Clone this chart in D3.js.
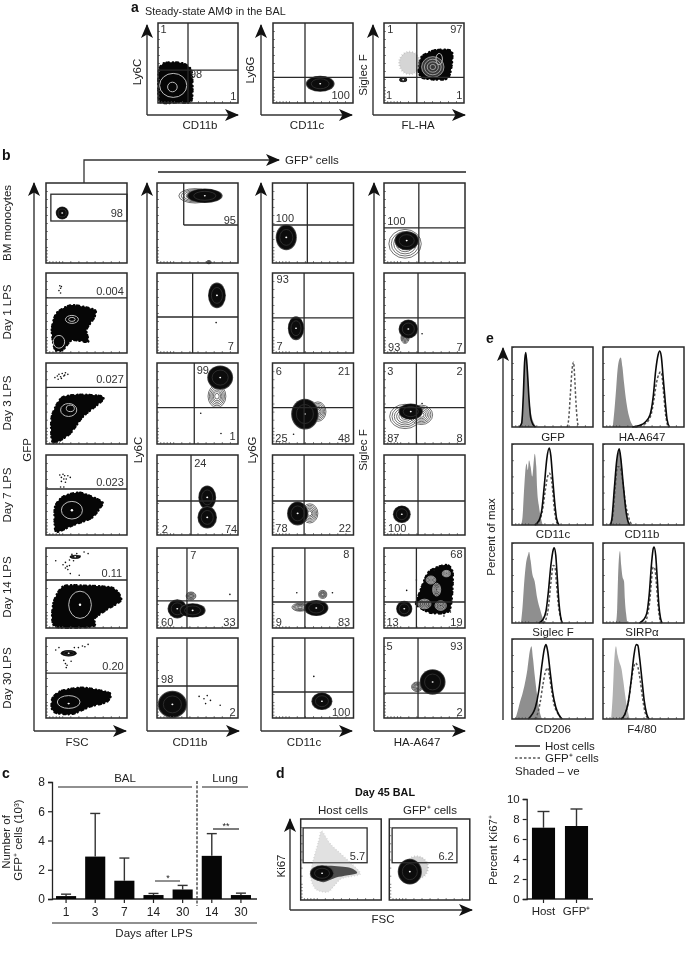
<!DOCTYPE html>
<html>
<head>
<meta charset="utf-8">
<script src="https://cdnjs.cloudflare.com/ajax/libs/d3/7.8.5/d3.min.js"></script>
<style>
html, body { margin: 0; padding: 0; background: #fff; }
svg { display: block; filter: blur(0.3px); }
text { font-family: "Liberation Sans", Arial, sans-serif; fill: #222; }
</style>
</head>
<body>
<div id="viz_div"></div>
<script>
// ---------- data: all gates, blobs and labels are in percent of each plot's axis ----------

var row_names = ["BM monocytes", "Day 1 LPS", "Day 3 LPS", "Day 7 LPS", "Day 14 LPS", "Day 30 LPS"];

// panel a
var a_gates = [{v: 37.5, h: 41}, {v: 40, h: 32}, {v: 41, h: 32}];
var a_labels = [
	[["1", 3, 88, "start"], ["98", 40, 31, "start"], ["1", 98, 4, "end"]],
	[["100", 96, 5, "end"]],
	[["1", 4, 87, "start"], ["97", 98, 87, "end"], ["1", 2.5, 5, "start"], ["1", 98, 5, "end"]]
];
var a_clouds = [
	[[2, 2], [1, 40], [8, 50], [30, 50], [42, 40], [42, 3], [25, 1]],
	[],
	[[47, 58], [64, 66], [85, 64], [80, 31], [49, 31], [43, 41]]
];
var a_blobs = [
	[{x: 19, y: 22, rx: 17, ry: 15, kind: "ring"}, {x: 18, y: 20, rx: 6, ry: 6, kind: "ring"}],
	[{x: 59, y: 24, rx: 18, ry: 10, kind: "dark"}],
	[{x: 32, y: 50, rx: 13, ry: 14, kind: "haze"}, {x: 24, y: 29, rx: 5, ry: 3, kind: "dark"},
	 {x: 61, y: 45, rx: 14, ry: 13, kind: "inner"}, {x: 69, y: 55, rx: 4, ry: 7, kind: "ring"}]
];

// panel b, column FSC / GFP
var gfp_gates = [{rect: [6, 100, 52.5, 86]}, {h: 69}, {h: 70}, {h: 57.5}, {h: 60}, {h: 56}];
var gfp_labels = [
	[["98", 95, 57.5, "end"]],
	[["0.004", 96, 72, "end"]],
	[["0.027", 96, 75, "end"]],
	[["0.023", 96, 61, "end"]],
	[["0.11", 94, 64, "end"]],
	[["0.20", 96, 60, "end"]]
];
var gfp_clouds = [
	[],
	[[11, 4], [7, 29], [13, 50], [32, 60], [60, 54], [60, 45], [50, 29], [52, 14], [32, 16], [21, 4]],
	[[7, 5], [7, 34], [19, 57], [42, 61], [69, 59], [69, 53], [46, 34], [30, 13], [13, 2]],
	[[11, 8], [11, 35], [21, 48], [42, 53], [69, 42], [67, 34], [56, 21], [33, 12], [15, 4]],
	[[11, 2], [9, 31], [21, 52], [50, 53], [83, 50], [93, 35], [75, 23], [60, 12], [58, 2]],
	[[7, 12], [8, 25], [19, 34], [46, 38], [79, 31], [75, 20], [54, 14], [33, 5], [13, 6]]
];
var gfp_blobs = [
	[{x: 20, y: 62.5, rx: 8, ry: 8, kind: "dark"}],
	[{x: 32, y: 42, rx: 8, ry: 5, kind: "ring"}, {x: 32, y: 42, rx: 4, ry: 2.5, kind: "ring"}, {x: 16, y: 14, rx: 7, ry: 8, kind: "ring"}],
	[{x: 28, y: 42, rx: 10, ry: 8, kind: "ring"}, {x: 30, y: 44, rx: 5, ry: 4, kind: "ring"}],
	[{x: 32, y: 31, rx: 13, ry: 11, kind: "ring"}, {x: 32, y: 31, rx: 1.5, ry: 1.5, kind: "spot"}],
	[{x: 42, y: 29, rx: 14, ry: 17, kind: "ring"}, {x: 42, y: 29, rx: 1.5, ry: 1.5, kind: "spot"}, {x: 36, y: 89, rx: 7, ry: 2.5, kind: "dark"}],
	[{x: 28, y: 20, rx: 14, ry: 8, kind: "ring"}, {x: 28, y: 18, rx: 1.5, ry: 1, kind: "spot"}, {x: 28, y: 81, rx: 10, ry: 4, kind: "dark"}]
];
var gfp_dots = [
	[],
	[[17, 84], [18, 81], [16, 78], [18, 75], [19, 83]],
	[[11, 82], [14, 84], [16, 86], [18, 83], [20, 87], [22, 84], [24, 88], [27, 86], [15, 80], [19, 81], [23, 85]],
	[[17, 75], [19, 72], [21, 76], [23, 74], [25, 70], [27, 74], [30, 72], [19, 67], [22, 70], [24, 66], [18, 60], [22, 60]],
	[[21, 79], [24, 82], [26, 77], [29, 85], [32, 92], [38, 93], [42, 90], [47, 95], [52, 93], [27, 73], [29, 78], [24, 75], [34, 84], [30, 68], [12, 84], [41, 66]],
	[[12, 85], [16, 88], [40, 88], [45, 90], [48, 89], [52, 92], [22, 72], [24, 68], [26, 66], [25, 63], [31, 71], [35, 88]]
];

// panel b, column CD11b / Ly6C
var ly6c_gates = [{l: [33, 47.5]}, {v: 44, h: 45}, {v: 46, h: 45}, {v: 42, h: 42.5}, {v: 37, h: 34}, {v: 37, h: 40}];
var ly6c_labels = [
	[["95", 97.5, 49, "end"]],
	[["7", 95, 4, "end"]],
	[["99", 49, 87, "start"], ["1", 97, 5, "end"]],
	[["24", 46, 85, "start"], ["2", 6, 3, "start"], ["74", 99, 3, "end"]],
	[["7", 41, 86, "start"], ["60", 5, 2, "start"], ["33", 97, 3, "end"]],
	[["98", 5, 44, "start"], ["2", 97, 2, "end"]]
];
var ly6c_blobs = [
	[{x: 47, y: 84, rx: 20, ry: 9, kind: "soft"}, {x: 59, y: 84, rx: 22, ry: 9, kind: "dark"}, {x: 64, y: 1, rx: 3, ry: 2, kind: "soft"}],
	[{x: 74, y: 72, rx: 11, ry: 16, kind: "dark"}],
	[{x: 74, y: 59, rx: 11, ry: 14, kind: "soft"}, {x: 78, y: 82, rx: 16, ry: 15, kind: "dark"}],
	[{x: 62, y: 47, rx: 11, ry: 15, kind: "dark"}, {x: 62, y: 22, rx: 12, ry: 14, kind: "dark"}],
	[{x: 42, y: 40, rx: 6, ry: 5, kind: "soft"}, {x: 25, y: 24, rx: 12, ry: 12, kind: "dark"}, {x: 44, y: 22, rx: 16, ry: 9, kind: "dark"}],
	[{x: 19, y: 17, rx: 18, ry: 17, kind: "dark"}]
];
var ly6c_dots = [[], [[73, 38]], [[54, 38], [79, 13]], [], [[90, 42]], [[52, 27], [58, 24], [62, 28], [66, 22], [78, 16], [60, 18]]];

// panel b, column CD11c / Ly6G
var ly6g_gates = [{v: 43, h: 47.5}, {v: 39, h: 44}, {v: 39, h: 45}, {v: 39, h: 42.5}, {v: 40, h: 32.5}, {v: 40, h: 32.5}];
var ly6g_labels = [
	[["100", 4, 51, "start"]],
	[["93", 5, 87.5, "start"], ["7", 5, 4, "start"]],
	[["6", 4, 85, "start"], ["21", 96, 85, "end"], ["25", 3.5, 3, "start"], ["48", 96, 3, "end"]],
	[["78", 3.5, 4, "start"], ["22", 97, 4, "end"]],
	[["8", 95, 87, "end"], ["9", 4, 3, "start"], ["83", 96, 3, "end"]],
	[["100", 96, 2, "end"]]
];
var ly6g_blobs = [
	[{x: 17, y: 32, rx: 13, ry: 16, kind: "dark"}],
	[{x: 29, y: 31, rx: 10, ry: 15, kind: "dark"}],
	[{x: 56, y: 40, rx: 10, ry: 12, kind: "soft"}, {x: 40, y: 37, rx: 17, ry: 19, kind: "dark"}],
	[{x: 46, y: 27, rx: 10, ry: 12, kind: "soft"}, {x: 31, y: 27, rx: 13, ry: 15, kind: "dark"}],
	[{x: 34, y: 26, rx: 10, ry: 5, kind: "soft"}, {x: 62, y: 42, rx: 5, ry: 5, kind: "soft"}, {x: 54, y: 25, rx: 15, ry: 10, kind: "dark"}],
	[{x: 61, y: 21, rx: 13, ry: 11, kind: "dark"}]
];
var ly6g_dots = [[], [], [[44, 50], [26, 12]], [], [[30, 44], [74, 44]], [[51, 52]]];

// panel b, column HA-A647 / Siglec F
var siglec_gates = [{v: 43, h: 44}, {v: 42, h: 44}, {v: 40, h: 45}, {v: 42, h: 42.5}, {v: 40, h: 32.5}, {v: 42, h: 31}];
var siglec_labels = [
	[["100", 4, 47.5, "start"]],
	[["93", 5, 3, "start"], ["7", 97, 3, "end"]],
	[["3", 4, 85, "start"], ["2", 97, 85, "end"], ["87", 4, 3, "start"], ["8", 97, 3, "end"]],
	[["100", 5, 4, "start"]],
	[["68", 97, 87, "end"], ["13", 3, 3, "start"], ["19", 97, 3, "end"]],
	[["5", 3, 85, "start"], ["93", 97, 85, "end"], ["2", 97, 2, "end"]]
];
var siglec_blobs = [
	[{x: 26, y: 24, rx: 20, ry: 18, kind: "soft"}, {x: 28, y: 28, rx: 15, ry: 12, kind: "dark"}],
	[{x: 26, y: 19, rx: 5, ry: 7, kind: "soft"}, {x: 30, y: 30, rx: 12, ry: 12, kind: "dark"}],
	[{x: 26, y: 34, rx: 19, ry: 15, kind: "soft"}, {x: 46, y: 36, rx: 14, ry: 12, kind: "soft"}, {x: 33, y: 40, rx: 15, ry: 10, kind: "dark"}],
	[{x: 22, y: 26, rx: 11, ry: 11, kind: "dark"}],
	[{x: 25, y: 24, rx: 10, ry: 10, kind: "dark"}],
	[{x: 41, y: 39, rx: 7, ry: 6, kind: "soft"}, {x: 60, y: 45, rx: 16, ry: 16, kind: "dark"}]
];
var siglec_dots = [[], [[47, 24]], [[47, 50], [14, 8]], [], [[28, 47], [72, 78], [62, 72], [82, 20], [74, 15], [40, 60]], []];
// irregular population in the day 14 plot
var siglec_cloud_d14 = [[42, 39], [55, 70], [77, 79], [85, 68], [81, 22], [57, 19], [40, 29]];
var siglec_rings_d14 = [
	{x: 65, y: 48, rx: 5, ry: 8, kind: "inner"}, {x: 77, y: 68, rx: 5, ry: 4, kind: "inner"},
	{x: 58, y: 60, rx: 6, ry: 5, kind: "inner"}, {x: 50, y: 30, rx: 8, ry: 6, kind: "inner"},
	{x: 70, y: 28, rx: 7, ry: 6, kind: "inner"}
];

// panel c
var c_days = ["1", "3", "7", "14", "30", "14", "30"];
var c_means = [0.2, 2.9, 1.25, 0.27, 0.65, 2.95, 0.27];
var c_tops = [0.33, 5.85, 2.8, 0.38, 0.93, 4.47, 0.4];
var c_ticks = [0, 2, 4, 6, 8];

// panel d
var d_gates = [{rect: [3, 82.5, 46, 89]}, {rect: [3.5, 84, 46, 89]}];
var d_labels = ["5.7", "6.2"];
var d_titles = ["Host cells", "GFP⁺ cells"];
var d_haze = [[12, 33], [22, 72], [26, 85], [38, 68], [62, 46], [74, 32], [50, 26], [34, 10], [18, 14]];
var d_tail = [[12, 30], [30, 42], [60, 40], [70, 33], [45, 28], [28, 22]];
var d_bar_names = ["Host", "GFP⁺"];
var d_bar_means = [7.13, 7.3];
var d_bar_tops = [8.75, 9.0];
var d_ticks = [0, 2, 4, 6, 8, 10];

// panel e, histograms: [intensity, percent of max]
var e_names = ["GFP", "HA-A647", "CD11c", "CD11b", "Siglec F", "SIRPα", "CD206", "F4/80"];
var e_shaded = [
	[[8,0],[11,3],[13,25],[15,70],[17,93],[19,75],[21,40],[24,15],[27,5],[31,0]],
	[[12,0],[14,20],[16,45],[18,72],[20,84],[22,87],[24,75],[26,55],[29,30],[32,14],[36,3],[39,0]],
	[[11,0],[13,10],[15,45],[17,72],[18,76],[19.5,68],[21,80],[23,72],[25,60],[27,80],[28,88],[30,72],[31,45],[33,25],[35,12],[38,0]],
	[[9,0],[11,10],[14,45],[17,78],[20,93],[22,85],[25,55],[28,25],[31,6],[34,0]],
	[[11,0],[13,20],[15,50],[17,72],[20,86],[21,89],[23,78],[25,62],[28,52],[31,32],[35,16],[38,6],[41,0]],
	[[16,0],[17.5,18],[18.5,55],[20,85],[21,90],[22.5,72],[24,58],[26,52],[27,30],[28.5,12],[30,0]],
	[[4,0],[7,10],[10,22],[13,32],[16,45],[19,62],[22,85],[24,91],[26,75],[28,55],[31,30],[34,10],[37,0]],
	[[10,0],[12,30],[14,75],[16,91],[18,80],[20,72],[23,62],[25,48],[28,25],[31,8],[33,0]]
];
var e_host = [
	[[9,0],[12,5],[14,40],[15.5,80],[17,93],[19,70],[21,35],[23,12],[26,3],[29,0]],
	[[36,0],[45,2],[52,6],[58,15],[62,38],[65,70],[68,90],[70,95],[72,88],[74,65],[77,30],[79,10],[82,0]],
	[[28,0],[33,5],[37,20],[40,50],[43,82],[46,95],[48,85],[50,60],[53,25],[55,8],[58,0]],
	[[9,0],[11,8],[14,45],[17,80],[20,94],[22,82],[25,50],[28,20],[31,4],[33,0]],
	[[33,0],[38,4],[42,15],[45,40],[48,72],[51,92],[52,94],[54,85],[56,55],[58,25],[60,8],[62,0]],
	[[45,0],[50,4],[54,12],[57,35],[60,75],[62,93],[63,95],[65,85],[67,55],[69,22],[71,6],[73,0]],
	[[20,0],[25,6],[29,15],[33,35],[37,68],[40,88],[42,93],[44,85],[47,60],[50,35],[54,15],[58,5],[62,0]],
	[[22,0],[27,6],[31,20],[35,50],[38,78],[41,93],[43,92],[45,78],[48,50],[51,22],[54,6],[57,0]]
];
var e_gfp = [
	[[68,0],[70,10],[72,40],[74,70],[76,81],[77.5,60],[79,30],[81,5],[82,0]],
	[[40,0],[50,3],[56,8],[60,18],[63,35],[66,55],[69,66],[71,69],[73,62],[75,40],[77,18],[79,5],[81,0]],
	[[30,0],[35,8],[38,20],[41,42],[44,60],[46,64],[48,60],[50,45],[52,22],[54,8],[57,0]],
	[[9,0],[12,10],[15,45],[18,72],[20,72],[22,68],[25,48],[28,25],[31,12],[34,3],[37,0]],
	[[38,0],[42,5],[45,20],[48,50],[51,72],[53,70],[55,48],[57,25],[60,6],[62,0]],
	[[52,0],[55,10],[58,30],[60,55],[62,70],[64,68],[66,48],[68,22],[70,6],[72,0]],
	[[28,0],[32,8],[35,22],[38,42],[41,58],[44,64],[46,55],[49,35],[52,18],[56,8],[60,2],[62,0]],
	[[24,0],[28,8],[32,25],[35,48],[38,65],[40,70],[43,65],[46,48],[49,25],[52,8],[56,0]]
];

// ---------- layout ----------

var w = 685, h = 953;
var label_font = 11, title_font = 11.5;
var box_stroke = "#2a2a2a";
var minor_ticks = [4, 8, 12, 16, 20, 30, 40, 50, 60, 70, 80, 90];
var ring_levels = [1, 0.85, 0.7, 0.55, 0.4, 0.25];
var inner_levels = [1, 0.75, 0.5, 0.25];

var svg = d3.select("#viz_div").append("svg").attr("width", w).attr("height", h);

var defs = svg.append("defs");
defs.append("marker")
	.attr("id", "head")
	.attr("viewBox", "0 0 14 12")
	.attr("refX", 13).attr("refY", 6)
	.attr("markerUnits", "userSpaceOnUse")
	.attr("markerWidth", 14).attr("markerHeight", 12)
	.attr("orient", "auto")
	.append("path")
	.attr("d", "M0,0 L14,6 L0,12 L3.5,6 Z")
	.attr("fill", "#111");

function add_text(g, str, x, y, size, opts) {
	opts = opts || {};
	var t = g.append("text")
		.attr("x", x).attr("y", y)
		.attr("font-size", size)
		.attr("text-anchor", opts.anchor || "middle")
		.text(str);
	if (opts.bold) t.attr("font-weight", "bold").style("fill", "#111");
	return t;
}

function add_vtext(g, str, x, y, size) {
	return g.append("text")
		.attr("transform", "translate(" + x + "," + y + ") rotate(-90)")
		.attr("font-size", size)
		.attr("text-anchor", "middle")
		.text(str);
}

function add_arrow(x1, y1, x2, y2) {
	svg.append("line")
		.attr("x1", x1).attr("y1", y1).attr("x2", x2).attr("y2", y2)
		.attr("stroke", "#333").attr("stroke-width", 1.4)
		.attr("marker-end", "url(#head)");
}

function add_corner_axes(x0, y_top, y_bot, x_right) {
	add_arrow(x0, y_bot, x0, y_top);
	add_arrow(x0, y_bot, x_right, y_bot);
}

function draw_blob(g, x, y, b) {
	var cx = x(b.x), cy = y(b.y);
	var rx = Math.abs(x(b.rx) - x(0)), ry = Math.abs(y(b.ry) - y(0));
	function ell(sx, sy) {
		return g.append("ellipse").attr("cx", cx).attr("cy", cy).attr("rx", rx * sx).attr("ry", ry * sy);
	}
	if (b.kind == "dark") {
		ell(1, 1).attr("fill", "#444");
		ell(0.93, 0.93).attr("fill", "#0c0c0c");
		ell(0.62, 0.62).attr("fill", "none").attr("stroke", "#3a3a3a").attr("stroke-width", 0.7);
		g.append("ellipse").attr("cx", cx).attr("cy", cy).attr("rx", 1).attr("ry", 0.8).attr("fill", "#fff");
	} else if (b.kind == "soft") {
		ring_levels.forEach(function(k) {
			ell(k, k).attr("fill", "#fff").attr("stroke", "#333").attr("stroke-width", 0.7);
		});
	} else if (b.kind == "inner") {
		inner_levels.forEach(function(k) {
			ell(k, k).attr("fill", "#3a3a3a").attr("stroke", "#ddd").attr("stroke-width", 0.6);
		});
	} else if (b.kind == "ring") {
		ell(1, 1).attr("fill", "none").attr("stroke", "#bbb").attr("stroke-width", 1);
	} else if (b.kind == "spot") {
		ell(1, 1).attr("fill", "#fff");
	} else if (b.kind == "haze") {
		ell(1, 1).attr("fill", "#999").attr("opacity", 0.4)
			.attr("stroke", "#555").attr("stroke-width", 2).attr("stroke-dasharray", "0.6 2.2");
	}
}

var cloud_line = d3.line().curve(d3.curveCardinalClosed.tension(0.3));

function draw_cloud(g, x, y, pts) {
	if (!pts.length) return;
	g.append("path")
		.attr("d", cloud_line(pts.map(function(p) { return [x(p[0]), y(p[1])]; })))
		.attr("fill", "#060606")
		.attr("stroke", "#060606")
		.attr("stroke-width", 2.2)
		.attr("stroke-linecap", "round")
		.attr("stroke-dasharray", "0.5 2.6 0.5 1.4 0.5 3.8");
}

// one flow plot: box, tick marks, populations, gate lines, number labels
function flow_plot(x0, y0, pw, ph, opt) {
	var g = svg.append("g");
	var x = d3.scaleLinear().domain([0, 100]).range([x0, x0 + pw]);
	var y = d3.scaleLinear().domain([0, 100]).range([y0 + ph, y0]);

	g.append("rect").attr("x", x0).attr("y", y0).attr("width", pw).attr("height", ph).attr("fill", "#fff");

	(opt.clouds || []).forEach(function(c) { draw_cloud(g, x, y, c); });
	(opt.blobs || []).forEach(function(b) { draw_blob(g, x, y, b); });
	(opt.dots || []).forEach(function(d) {
		g.append("circle").attr("cx", x(d[0])).attr("cy", y(d[1])).attr("r", 0.8).attr("fill", "#111");
	});

	var tick_x = g.append("g").attr("transform", "translate(0," + (y0 + ph) + ")")
		.call(d3.axisBottom(x).tickValues(minor_ticks).tickSize(-2).tickFormat(""));
	var tick_y = g.append("g").attr("transform", "translate(" + x0 + ",0)")
		.call(d3.axisLeft(y).tickValues(minor_ticks).tickSize(-2).tickFormat(""));
	[tick_x, tick_y].forEach(function(a) {
		a.select(".domain").remove();
		a.selectAll("line").attr("stroke", "#555").attr("stroke-width", 0.7);
	});

	var gate = opt.gate || {};
	function seg(x1, y1, x2, y2) {
		g.append("line").attr("x1", x1).attr("y1", y1).attr("x2", x2).attr("y2", y2)
			.attr("stroke", box_stroke).attr("stroke-width", 1.3);
	}
	if (gate.v !== undefined) seg(x(gate.v), y0, x(gate.v), y0 + ph);
	if (gate.h !== undefined) seg(x0, y(gate.h), x0 + pw, y(gate.h));
	if (gate.l) {
		seg(x(gate.l[0]), y0, x(gate.l[0]), y(gate.l[1]));
		seg(x(gate.l[0]), y(gate.l[1]), x0 + pw, y(gate.l[1]));
	}
	if (gate.rect) {
		g.append("rect")
			.attr("x", x(gate.rect[0])).attr("y", y(gate.rect[3]))
			.attr("width", x(gate.rect[1]) - x(gate.rect[0]))
			.attr("height", y(gate.rect[2]) - y(gate.rect[3]))
			.attr("fill", "none").attr("stroke", box_stroke).attr("stroke-width", 1.3);
	}

	g.append("rect").attr("x", x0).attr("y", y0).attr("width", pw).attr("height", ph)
		.attr("fill", "none").attr("stroke", box_stroke).attr("stroke-width", 1.5);

	(opt.labels || []).forEach(function(l) {
		add_text(g, l[0], x(l[1]), y(l[2]), label_font, {anchor: l[3]}).style("fill", "#333");
	});
}

// ---------- panel a ----------

add_text(svg, "a", 131, 12, 14, {anchor: "start", bold: true});
add_text(svg, "Steady-state AMΦ in the BAL", 145, 15, 10.8, {anchor: "start"});

var a_x = [158, 273, 384];
var a_axis_x = [147, 261, 373];
var a_axis_end = [238, 352, 465];
var a_x_titles = ["CD11b", "CD11c", "FL-HA"];
var a_title_x = [200, 307, 418];
var a_y_titles = ["Ly6C", "Ly6G", "Siglec F"];
var a_y_title_x = [141, 254, 367];
var a_y_title_y = [72, 70, 75];

a_x.forEach(function(x0, i) {
	flow_plot(x0, 23, 80, 80, {gate: a_gates[i], labels: a_labels[i], blobs: a_blobs[i], clouds: [a_clouds[i]]});
	add_corner_axes(a_axis_x[i], 25, 115, a_axis_end[i]);
	add_text(svg, a_x_titles[i], a_title_x[i], 129, title_font);
	add_vtext(svg, a_y_titles[i], a_y_title_x[i], a_y_title_y[i], title_font);
});

// ---------- panel b ----------

add_text(svg, "b", 2, 160, 14, {anchor: "start", bold: true});

var b_col_x = [46, 157, 272.5, 384];
var b_row_y = [183, 273, 363, 455, 548, 638];
var b_row_h = [80, 80, 81, 80, 80, 80];
var b_axis_x = [34, 147, 261, 374];
var b_axis_end = [126, 239, 352, 465];
var b_x_titles = ["FSC", "CD11b", "CD11c", "HA-A647"];
var b_title_x = [77, 190, 304, 417];
var b_y_titles = ["GFP", "Ly6C", "Ly6G", "Siglec F"];
var b_y_title_x = [31, 142, 256, 367];

var b_columns = [
	{gates: gfp_gates, labels: gfp_labels, blobs: gfp_blobs, dots: gfp_dots, clouds: gfp_clouds},
	{gates: ly6c_gates, labels: ly6c_labels, blobs: ly6c_blobs, dots: ly6c_dots},
	{gates: ly6g_gates, labels: ly6g_labels, blobs: ly6g_blobs, dots: ly6g_dots},
	{gates: siglec_gates, labels: siglec_labels, blobs: siglec_blobs, dots: siglec_dots}
];

b_columns.forEach(function(col, c) {
	row_names.forEach(function(name, r) {
		var clouds = col.clouds ? [col.clouds[r]] : [];
		var blobs = col.blobs[r];
		if (c == 3 && r == 4) {
			clouds = [siglec_cloud_d14];
			blobs = blobs.concat(siglec_rings_d14);
		}
		flow_plot(b_col_x[c], b_row_y[r], 81, b_row_h[r], {
			gate: col.gates[r], labels: col.labels[r], blobs: blobs, dots: col.dots[r], clouds: clouds
		});
	});
	add_corner_axes(b_axis_x[c], 183, 731, b_axis_end[c]);
	add_text(svg, b_x_titles[c], b_title_x[c], 746, title_font);
	add_vtext(svg, b_y_titles[c], b_y_title_x[c], 450, title_font);
});

var b_row_center = [223, 312, 403, 495, 587, 678];
row_names.forEach(function(name, r) {
	add_vtext(svg, name, 11, b_row_center[r], title_font);
});

// connector from the gate to the GFP+ columns
svg.append("path").attr("d", "M84,183 V160 H279").attr("fill", "none")
	.attr("stroke", "#333").attr("stroke-width", 1.3).attr("marker-end", "url(#head)");
svg.append("line").attr("x1", 158).attr("x2", 466).attr("y1", 172).attr("y2", 172)
	.attr("stroke", "#222").attr("stroke-width", 1.3);
add_text(svg, "GFP⁺ cells", 285, 164, title_font, {anchor: "start"});

// ---------- panel c ----------

add_text(svg, "c", 2, 778, 14, {anchor: "start", bold: true});

var c_y = d3.scaleLinear().domain([0, 8]).range([899, 782]);
var c_x = d3.scaleBand().domain(d3.range(c_days.length)).range([51.5, 255.5]).paddingInner(0.31).paddingOuter(0.155);

function bar_axes(g, x, y, ticks, names, baseline_end, left, font) {
	var ax_y = g.append("g").attr("transform", "translate(" + left + ",0)")
		.call(d3.axisLeft(y).tickValues(ticks).tickSize(4).tickPadding(3));
	var ax_x = g.append("g").attr("transform", "translate(0," + y(0) + ")")
		.call(d3.axisBottom(x).tickSize(4).tickPadding(4).tickFormat(function(d) { return names[d]; }));
	[ax_x, ax_y].forEach(function(a) {
		a.selectAll("text").attr("font-size", font).style("font-family", '"Liberation Sans", Arial, sans-serif');
		a.selectAll("line").attr("stroke", "#222").attr("stroke-width", 1.2);
		a.select(".domain").attr("stroke", "#222").attr("stroke-width", 1.3);
	});
	ax_x.select(".domain").attr("d", "M" + left + ",0H" + baseline_end);
}

function bar_marks(g, x, y, means, tops, cap) {
	var idx = d3.range(means.length);
	g.selectAll("line.err").data(idx).enter().append("line")
		.attr("class", "err")
		.attr("x1", function(d) { return x(d) + x.bandwidth() / 2; })
		.attr("x2", function(d) { return x(d) + x.bandwidth() / 2; })
		.attr("y1", function(d) { return y(means[d]); })
		.attr("y2", function(d) { return y(tops[d]); })
		.attr("stroke", "#333").attr("stroke-width", 1.4);
	g.selectAll("line.cap").data(idx).enter().append("line")
		.attr("class", "cap")
		.attr("x1", function(d) { return x(d) + x.bandwidth() / 2 - cap; })
		.attr("x2", function(d) { return x(d) + x.bandwidth() / 2 + cap; })
		.attr("y1", function(d) { return y(tops[d]); })
		.attr("y2", function(d) { return y(tops[d]); })
		.attr("stroke", "#333").attr("stroke-width", 1.4);
	g.selectAll("rect.bar").data(idx).enter().append("rect")
		.attr("class", "bar")
		.attr("x", function(d) { return x(d); })
		.attr("y", function(d) { return y(means[d]); })
		.attr("width", x.bandwidth())
		.attr("height", function(d) { return y(0) - y(means[d]); })
		.attr("fill", "#060606");
}

var c_g = svg.append("g");
bar_axes(c_g, c_x, c_y, c_ticks, c_days, 257, 52, 12);
bar_marks(c_g, c_x, c_y, c_means, c_tops, 5);

function plain_line(x1, y1, x2, y2, sw) {
	return svg.append("line").attr("x1", x1).attr("y1", y1).attr("x2", x2).attr("y2", y2)
		.attr("stroke", "#222").attr("stroke-width", sw || 1.2);
}
plain_line(58, 787, 192, 787);
plain_line(202, 787, 248, 787);
plain_line(52, 923, 257, 923);
plain_line(197, 781, 197, 906, 1.4).attr("stroke-dasharray", "3 1.6").attr("stroke", "#444");
plain_line(155, 881, 180, 881, 1);
plain_line(213, 829, 239, 829, 1.2);
add_text(svg, "BAL", 125, 782, title_font);
add_text(svg, "Lung", 225, 782, title_font);
add_text(svg, "*", 168, 881, 9);
add_text(svg, "**", 226, 829, 9);
add_text(svg, "Days after LPS", 154, 937, title_font);
add_vtext(svg, "Number of", 10, 842, title_font);
add_vtext(svg, "GFP⁺ cells (10³)", 22, 840, title_font);

// ---------- panel d ----------

add_text(svg, "d", 276, 778, 14, {anchor: "start", bold: true});
add_text(svg, "Day 45 BAL", 385, 796, 10.8, {bold: true});

var d_x = [300.7, 389.3];
var d_title_x = [343, 430];
var d_blobs = [
	[],
	[{x: 34, y: 40, rx: 14, ry: 14, kind: "haze"}, {x: 25.5, y: 35, rx: 15, ry: 16, kind: "dark"}]
];

// host cell smear sits behind the main blob, under the gate
var d_host_blob = {x: 26.5, y: 33, rx: 15, ry: 10, kind: "dark"};

d_x.forEach(function(x0, i) {
	flow_plot(x0, 819, 80.5, 81, {gate: d_gates[i], blobs: d_blobs[i], labels: [[d_labels[i], 80, 49, "end"]]});
	add_text(svg, d_titles[i], d_title_x[i], 814, title_font);
});

var d_host_x = d3.scaleLinear().domain([0, 100]).range([d_x[0], d_x[0] + 80.5]);
var d_host_y = d3.scaleLinear().domain([0, 100]).range([900, 819]);
var d_smear = svg.append("g");
d_smear.append("path")
	.attr("d", cloud_line(d_haze.map(function(p) { return [d_host_x(p[0]), d_host_y(p[1])]; })))
	.attr("fill", "#aaa").attr("opacity", 0.35)
	.attr("stroke", "#666").attr("stroke-width", 1.6).attr("stroke-dasharray", "0.5 2.4");
d_smear.append("path")
	.attr("d", cloud_line(d_tail.map(function(p) { return [d_host_x(p[0]), d_host_y(p[1])]; })))
	.attr("fill", "#333").attr("opacity", 0.85);
draw_blob(d_smear, d_host_x, d_host_y, d_host_blob);

add_corner_axes(290, 819, 910, 472);
add_text(svg, "FSC", 383, 923, title_font);
add_vtext(svg, "Ki67", 285, 866, title_font);

var d_bar_y = d3.scaleLinear().domain([0, 10]).range([899, 799]);
var d_bar_x = d3.scaleBand().domain(d3.range(d_bar_names.length)).range([527, 593]).paddingInner(0.3).paddingOuter(0.15);
var d_g = svg.append("g");
bar_axes(d_g, d_bar_x, d_bar_y, d_ticks, d_bar_names, 593, 526.7, title_font);
bar_marks(d_g, d_bar_x, d_bar_y, d_bar_means, d_bar_tops, 6);
add_vtext(svg, "Percent Ki67⁺", 497, 850, title_font);

// ---------- panel e ----------

add_text(svg, "e", 486, 343, 14, {anchor: "start", bold: true});

var e_col_x = [512, 603];
var e_row_y = [347, 444, 543, 639];
var e_row_h = [80, 81, 80, 80];
var e_title_y = [441, 538, 636, 733];
var e_title_x = [553, 642];

e_names.forEach(function(name, i) {
	var c = i % 2, r = Math.floor(i / 2);
	var x0 = e_col_x[c], y0 = e_row_y[r], ph = e_row_h[r], pw = 81;
	var x = d3.scaleLinear().domain([0, 100]).range([x0, x0 + pw]);
	var y = d3.scaleLinear().domain([0, 100]).range([y0 + ph, y0]);
	var g = svg.append("g");

	var area = d3.area().x(function(d) { return x(d[0]); }).y0(y(0)).y1(function(d) { return y(d[1]); }).curve(d3.curveMonotoneX);
	var line = d3.line().x(function(d) { return x(d[0]); }).y(function(d) { return y(d[1]); }).curve(d3.curveMonotoneX);

	g.append("path").attr("d", area(e_shaded[i])).attr("fill", i == 7 ? "#b0b0b0" : "#8f8f8f");
	g.append("path").attr("d", line(e_gfp[i])).attr("fill", "none").attr("stroke", "#555")
		.attr("stroke-width", 1.5).attr("stroke-dasharray", "2.5 2");
	g.append("path").attr("d", line(e_host[i])).attr("fill", "none").attr("stroke", "#0a0a0a").attr("stroke-width", 1.6);

	var tx = g.append("g").attr("transform", "translate(0," + y(0) + ")")
		.call(d3.axisBottom(x).tickValues(minor_ticks).tickSize(-2).tickFormat(""));
	var ty = g.append("g").attr("transform", "translate(" + x0 + ",0)")
		.call(d3.axisLeft(y).tickValues([20, 40, 60, 80, 100]).tickSize(-2).tickFormat(""));
	[tx, ty].forEach(function(a) {
		a.select(".domain").remove();
		a.selectAll("line").attr("stroke", "#555").attr("stroke-width", 0.7);
	});

	g.append("rect").attr("x", x0).attr("y", y0).attr("width", pw).attr("height", ph)
		.attr("fill", "none").attr("stroke", box_stroke).attr("stroke-width", 1.5);
	add_text(svg, name, e_title_x[c], e_title_y[r], title_font);
});

svg.append("line").attr("x1", 503).attr("y1", 720).attr("x2", 503).attr("y2", 348)
	.attr("stroke", "#333").attr("stroke-width", 1.4).attr("marker-end", "url(#head)");
add_vtext(svg, "Percent of max", 495, 537, title_font);

plain_line(515, 746, 540, 746, 1.5);
plain_line(515, 758, 540, 758, 1.5).attr("stroke-dasharray", "2.5 2").attr("stroke", "#555");
add_text(svg, "Host cells", 545, 750, title_font, {anchor: "start"});
add_text(svg, "GFP⁺ cells", 545, 762, title_font, {anchor: "start"});
add_text(svg, "Shaded – ve", 515, 775, title_font, {anchor: "start"});
</script>
</body>
</html>
